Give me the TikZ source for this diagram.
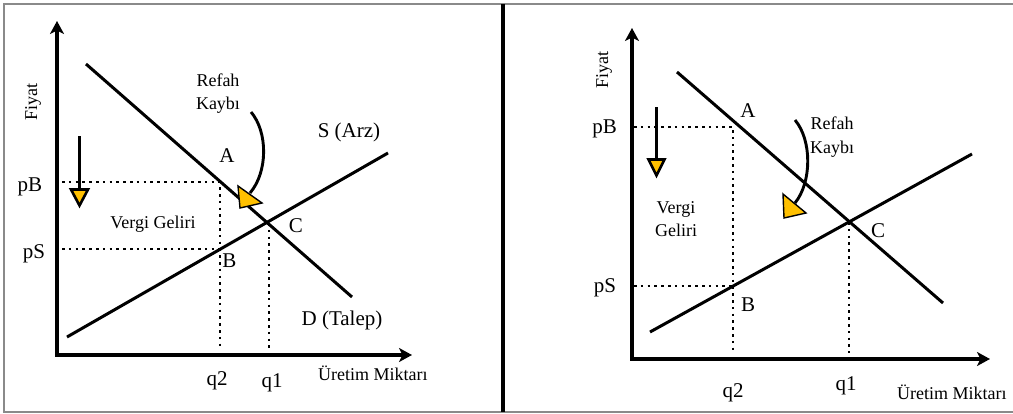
\documentclass[tikz,border=0pt]{standalone}
\usepackage{fontspec}
\setmainfont{Liberation Serif}
\usetikzlibrary{arrows.meta}
\definecolor{gold}{HTML}{FFC000}
\definecolor{framegray}{HTML}{8A8A8A}
\begin{document}
\begin{tikzpicture}[x=1pt,y=-1pt,
  axis/.style={line width=3.6pt,-{Stealth[length=13pt,width=14pt,inset=3.5pt]}},
  curveline/.style={line width=3pt},
  guide/.style={line width=2.6pt,dash pattern=on 2.6pt off 4.2pt},
  big/.style={font=\fontsize{21}{24}\selectfont,inner sep=0pt},
  small/.style={font=\fontsize{18}{23.5}\selectfont,inner sep=0pt,align=center},
  pointer/.style={line width=2.9pt},
  bigtip/.style={fill=gold,draw=black,line width=2.6pt,line join=miter},
  pointtip/.style={fill=gold,draw=black,line width=1.4pt,line join=miter}]
\useasboundingbox (0,0) rectangle (1013,413);
% frame and divider
\draw[framegray,line width=1.8pt] (1013,3.8) -- (3.8,3.8) -- (3.8,412) -- (1013,412);
\coordinate (divtop) at (503,3.8);
\coordinate (divbot) at (503,412);
\draw[line width=4.3pt] (divtop) -- (divbot);

% ================= LEFT PANEL =================
\coordinate (O1) at (57,356.8);
\coordinate (Y1) at (57,21);
\coordinate (X1a) at (55.2,355);
\coordinate (X1) at (412,355);
\draw[axis] (O1) -- (Y1);
\draw[axis] (X1a) -- (X1);

\coordinate (D1a) at (86,64);
\coordinate (D1b) at (352,297);
\coordinate (S1a) at (67,337);
\coordinate (S1b) at (388,153);
\draw[curveline] (D1a) -- (D1b);
\draw[curveline] (S1a) -- (S1b);

\coordinate (pB1s) at (62,182);
\coordinate (A1) at (220,182);
\coordinate (q2b1) at (220,350);
\coordinate (pS1s) at (62,249);
\coordinate (B1) at (220,249);
\coordinate (C1) at (269,223);
\coordinate (q1b1) at (269,350);
\draw[guide] (pB1s) -- (A1) -- (q2b1);
\draw[guide] (pS1s) -- (B1);
\draw[guide] (C1) -- (q1b1);

\node[big,anchor=base] (lpB) at (30,191) {pB};
\node[big,anchor=base] (lpS) at (34,258) {pS};
\node[big,anchor=base] (lq2) at (217,385) {q2};
\node[big,anchor=base] (lq1) at (272,387) {q1};
\node[big,anchor=base] (lA) at (227,162) {A};
\node[big,anchor=base] (lB) at (229.5,267) {B};
\node[big,anchor=base] (lC) at (296,232) {C};
\node[big,anchor=base] (lS) at (349,137) {S (Arz)};
\node[big,anchor=base] (lD) at (342,325) {D (Talep)};
\node[small,anchor=base west] (lX) at (318,380) {Üretim Miktarı};
\node[small,anchor=base,rotate=90] (lY) at (37,102) {Fiyat};
\node[small,anchor=base] (lV) at (153,228) {Vergi Geliri};
\node[small] (lR) at (218,93.5) {Refah\\Kaybı};

% welfare-loss pointer
\coordinate (r1s) at (251,112);
\coordinate (r1e) at (250,193);
\draw[pointer] (r1s) .. controls (268,132) and (268,172) .. (r1e);
\draw[pointtip] (238,186) -- (262,203) -- (240,208) -- cycle;

% small down arrow
\coordinate (d1s) at (79.5,136);
\coordinate (d1e) at (79.5,190);
\draw[pointer] (d1s) -- (d1e);
\draw[bigtip] (71,189.5) -- (88,189.5) -- (79.5,205.5) -- cycle;

% ================= RIGHT PANEL =================
\coordinate (O2) at (632,360.8);
\coordinate (Y2) at (632,28);
\coordinate (X2a) at (630.2,359);
\coordinate (X2) at (990,359);
\draw[axis] (O2) -- (Y2);
\draw[axis] (X2a) -- (X2);

\coordinate (D2a) at (677,72);
\coordinate (D2b) at (943,303);
\coordinate (S2a) at (650,332);
\coordinate (S2b) at (972,154);
\draw[curveline] (D2a) -- (D2b);
\draw[curveline] (S2a) -- (S2b);

\coordinate (pB2s) at (634,127);
\coordinate (A2) at (733,127);
\coordinate (q2b2) at (733,353);
\coordinate (pS2s) at (634,286);
\coordinate (B2) at (733,286);
\coordinate (C2) at (849,222);
\coordinate (q1b2) at (849,353);
\draw[guide] (pB2s) -- (A2) -- (q2b2);
\draw[guide] (pS2s) -- (B2);
\draw[guide] (C2) -- (q1b2);

\node[big,anchor=base] (rpB) at (604.5,133) {pB};
\node[big,anchor=base] (rpS) at (605,292) {pS};
\node[big,anchor=base] (rq2) at (733,397) {q2};
\node[big,anchor=base] (rq1) at (846,390) {q1};
\node[big,anchor=base] (rA) at (748,117) {A};
\node[big,anchor=base] (rB) at (748,311) {B};
\node[big,anchor=base] (rC) at (878,237) {C};
\node[small,anchor=base west] (rX) at (897,399) {Üretim Miktarı};
\node[small,anchor=base,rotate=90] (rY) at (608,70) {Fiyat};
\node[small] (rV) at (676,219) {Vergi\\Geliri};
\node[small] (rR) at (832,137) {Refah\\Kaybı};

% welfare-loss pointer
\coordinate (r2s) at (795,120);
\coordinate (r2e) at (795,203);
\draw[pointer] (r2s) .. controls (812,140) and (812,182) .. (r2e);
\draw[pointtip] (783,194) -- (806,213) -- (784,218) -- cycle;

% small down arrow
\coordinate (d2s) at (656.5,107);
\coordinate (d2e) at (656.5,160);
\draw[pointer] (d2s) -- (d2e);
\draw[bigtip] (648.5,159.5) -- (664.5,159.5) -- (656.5,175.5) -- cycle;
\end{tikzpicture}
\end{document}
